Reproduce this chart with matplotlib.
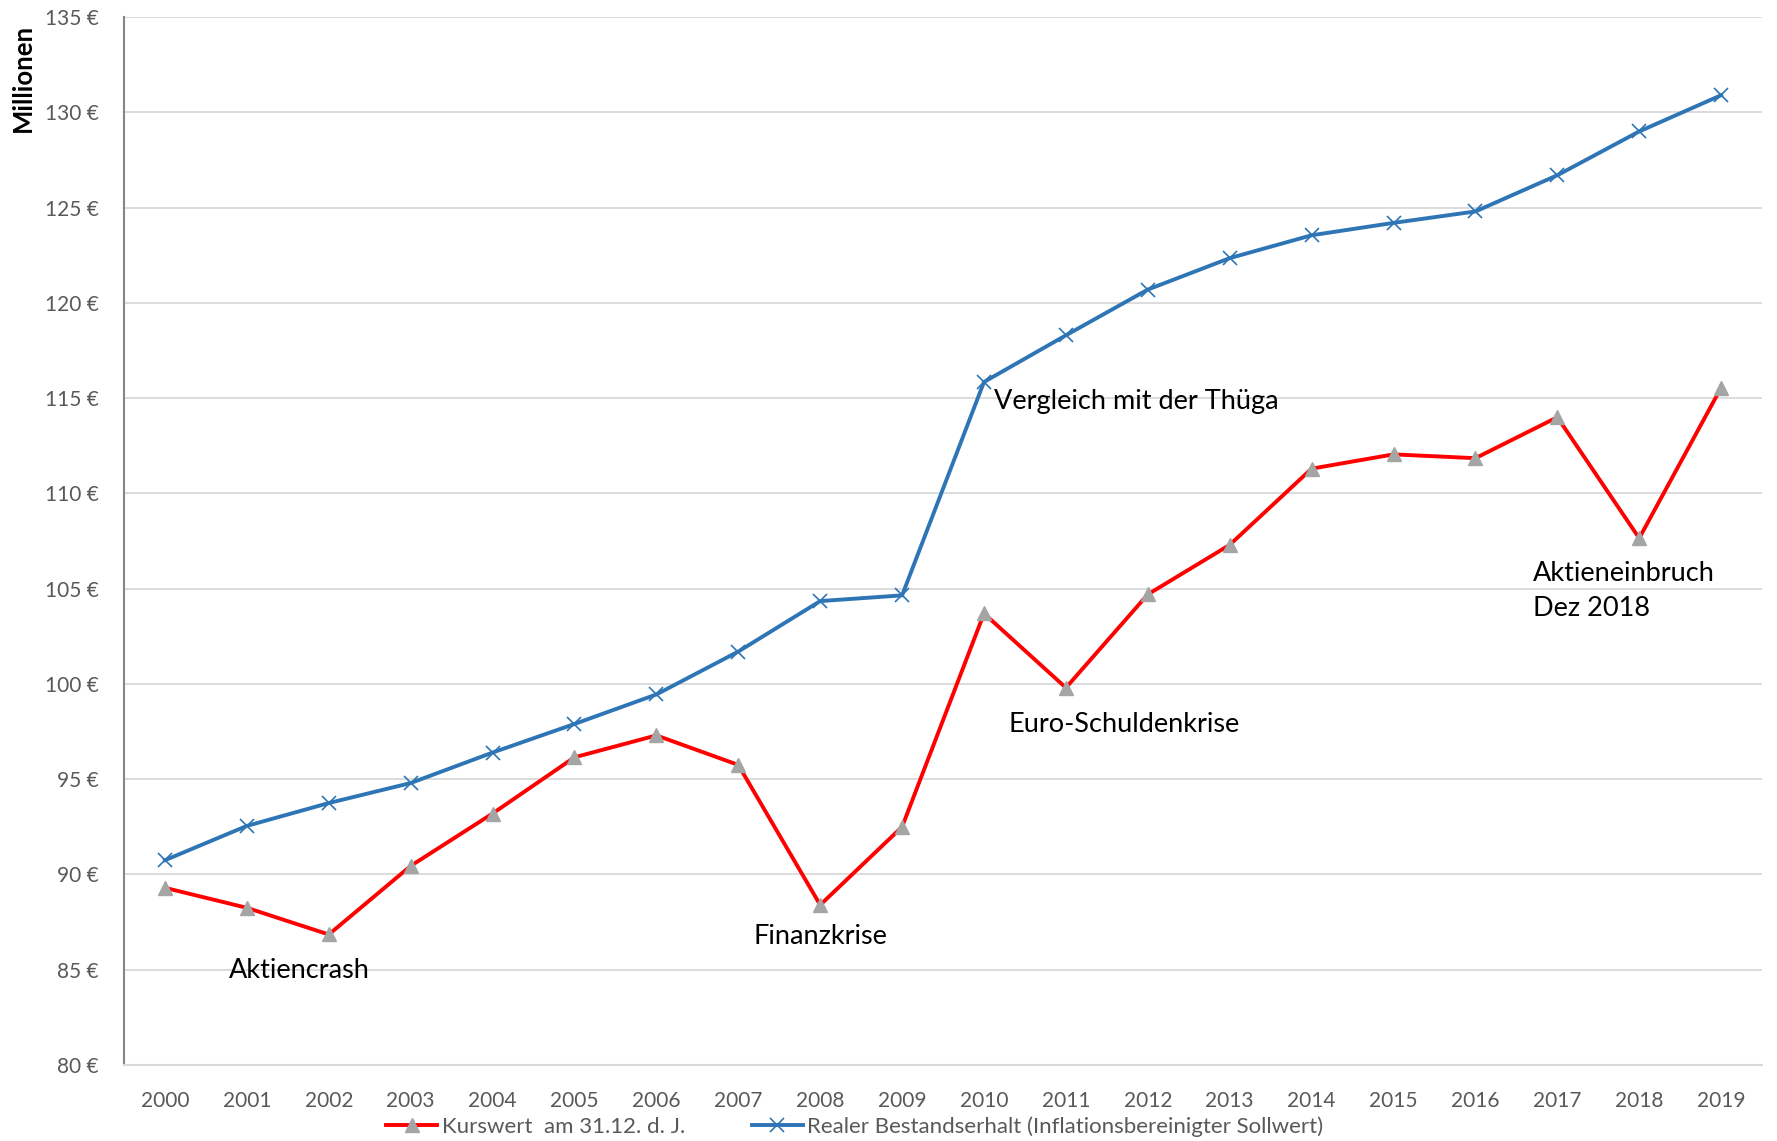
import matplotlib
matplotlib.use("Agg")
import matplotlib.pyplot as plt

years = [str(y) for y in range(2000, 2020)]
kurswert = [89.3, 88.25, 86.85, 90.45, 93.2, 96.15, 97.3, 95.75, 88.4, 92.5,
            103.7, 99.8, 104.7, 107.3, 111.3, 112.05, 111.85, 114.0, 107.65, 115.55]
real = [90.75, 92.55, 93.75, 94.8, 96.4, 97.9, 99.45, 101.7, 104.35, 104.65,
        115.85, 118.3, 120.7, 122.35, 123.55, 124.2, 124.8, 126.7, 129.0, 130.9]
yticks = [80, 85, 90, 95, 100, 105, 110, 115, 120, 125, 130, 135]
labels_series = ["Kurswert  am 31.12. d. J.", "Realer Bestandserhalt (Inflationsbereinigter Sollwert)"]
annotations = [
    ("Aktiencrash", 0.78, 84.95),
    ("Finanzkrise", 7.18, 86.75),
    ("Euro-Schuldenkrise", 10.3, 97.85),
    ("Vergleich mit der Thüga", 10.12, 114.85),
    ("Aktieneinbruch\nDez 2018", 16.7, 104.9),
]

plt.rcParams['font.family'] = ['Lato', 'DejaVu Sans']

fig = plt.figure(figsize=(17.77, 11.41), dpi=100)
ax = fig.add_axes([0.0698, 0.0666, 0.9218, 0.9184])

x = list(range(len(years)))
ax.plot(x, kurswert, color='#ff0000', lw=2.8, marker='^', markersize=10,
        markerfacecolor='#a5a5a5', markeredgecolor='#a5a5a5', label=labels_series[0], zorder=3)
ax.plot(x, real, color='#2e75b6', lw=2.8, marker='x', markersize=10, markeredgewidth=1.2,
        markeredgecolor='#2e75b6', label=labels_series[1], zorder=3)

ax.set_xlim(-0.5, len(years) - 0.5)
ax.set_ylim(80, 135)
ax.set_yticks(yticks)
ax.set_yticklabels([f"{v} €" for v in yticks])
ax.set_xticks(x)
ax.set_xticklabels(years)
ax.tick_params(length=0, labelsize=15, colors='#595959')
ax.tick_params(axis='x', pad=19)
ax.tick_params(axis='y', pad=18)
ax.grid(axis='y', color='#d9d9d9', lw=1.3)
ax.set_axisbelow(True)
for s in ['top', 'right']:
    ax.spines[s].set_visible(False)
ax.spines['left'].set_color('#868686')
ax.spines['left'].set_linewidth(1.5)
ax.spines['bottom'].set_color('#d9d9d9')
ax.spines['bottom'].set_linewidth(1.5)

for txt, xx, yy in annotations:
    ax.text(xx, yy, txt, fontsize=19.5, color='black', ha='left', va='center', linespacing=1.5)

fig.text(0.0128, 0.932, "Millionen", rotation=90, fontsize=18.5, fontweight='bold',
         ha='center', va='center')

fig.legend(loc='center', bbox_to_anchor=(0.481, 0.0125), ncol=2, frameon=False,
           fontsize=16, handlelength=2.3, handletextpad=0.2, columnspacing=3.0,
           labelcolor='#595959')

fig.savefig("out.png", dpi=100)
